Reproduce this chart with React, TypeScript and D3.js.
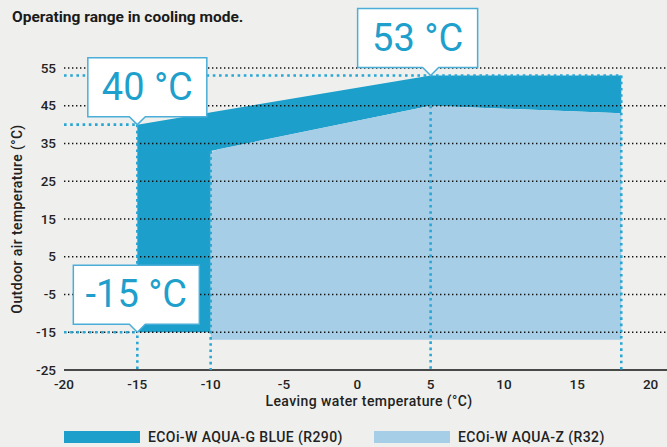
import React from 'react'
import * as d3 from 'd3'

// axis ticks
const xTicks = [-20, -15, -10, -5, 0, 5, 10, 15, 20]
const yTicks = [-25, -15, -5, 5, 15, 25, 35, 45, 55]

// R290 envelope (leaving water °C, outdoor air °C)
const r290Water = [-15, -15, 5, 18, 18, 5, -10, -10]
const r290Air = [-15, 40, 53, 53, 43, 45, 33, -15]

// R32 envelope
const r32Water = [-10, -10, -9.5, 5, 18, 18]
const r32Air = [-17, 32.6, 33.5, 45, 43, -17]

// highlighted limits
const calloutLabels = ['40 °C', '53 °C', '-15 °C']
const calloutWater = [-15, 5, -15]
const calloutAir = [40, 53, -15]

// blue dotted guides
const guideWater = [-15, -10, 5, 18]
const guideTopAir = [40, 33, 45, 53]

const seriesNames = ['ECOi-W AQUA-G BLUE (R290)', 'ECOi-W AQUA-Z (R32)']

const W = 667,
	H = 447
const DARK = '#1c9fcb'
const LIGHT = '#a6cee7'
const DOT = '#2aa6d4'
const FONT = 'Roboto, "DejaVu Sans", sans-serif'

const App = () => {
	const x = d3.scaleLinear().domain([-20, 20]).range([64, 650.6])
	const y = d3.scaleLinear().domain([-25, 55]).range([370, 68])

	const area = d3
		.line<[number, number]>()
		.x((d) => x(d[0]))
		.y((d) => y(d[1]))

	const r290 = area(r290Water.map((w, i) => [w, r290Air[i]]))! + 'Z'
	const r32 = area(r32Water.map((w, i) => [w, r32Air[i]]))! + 'Z'

	// callout box layout (px offsets from the tip)
	const boxW = [119, 120, 126]
	const boxDx = [10, -13, -1]
	const boxH = 59
	const gap = 8

	return (
		<svg
			width={W}
			height={H}
			style={{ position: 'absolute', left: 0, top: 0, background: '#eff0ee' }}
		>
			<text x={12} y={22} fontFamily={FONT} fontWeight={700} fontSize={15.5} fill="#1a1a1a">
				Operating range in cooling mode.
			</text>

			<path d={r290} fill={DARK} />
			<path d={r32} fill={LIGHT} />

			{/* grid */}
			{yTicks
				.filter((t) => t > -25)
				.map((t) => (
					<line
						key={'g' + t}
						x1={64}
						x2={W}
						y1={y(t)}
						y2={y(t)}
						stroke="#111"
						strokeWidth={1.4}
						strokeDasharray="1.4 2.6"
					/>
				))}
			<line x1={64} x2={W} y1={y(-25)} y2={y(-25)} stroke="#111" strokeWidth={1.6} />

			{/* blue guides */}
			{guideWater.map((w, i) => (
				<line
					key={'v' + w}
					x1={x(w)}
					x2={x(w)}
					y1={y(guideTopAir[i])}
					y2={y(-25)}
					stroke={DOT}
					strokeWidth={2.6}
					strokeDasharray="2.6 3.6"
				/>
			))}
			{calloutWater.map((w, i) => (
				<line
					key={'h' + i}
					x1={64}
					x2={i === 1 ? x(18) : x(w)}
					y1={y(calloutAir[i])}
					y2={y(calloutAir[i])}
					stroke={DOT}
					strokeWidth={2.6}
					strokeDasharray="2.6 3.6"
				/>
			))}

			{/* callouts */}
			{calloutLabels.map((lab, i) => {
				const tx = x(calloutWater[i])
				const ty = y(calloutAir[i])
				const bottom = ty - gap
				const top = bottom - boxH
				const cx = tx + boxDx[i]
				const l = cx - boxW[i] / 2
				const r = cx + boxW[i] / 2
				const p = `M${l},${top}H${r}V${bottom}H${tx + 8}L${tx},${ty}L${tx - 8},${bottom}H${l}Z`
				return (
					<g key={lab}>
						<path d={p} fill="#fff" stroke="#4aaed8" strokeWidth={1.5} />
						<text
							x={cx}
							y={bottom - 17}
							textAnchor="middle"
							fontFamily={FONT}
							fontSize={38}
							fill="#1e9fcc"
						>
							{lab}
						</text>
					</g>
				)
			})}

			{/* y tick labels */}
			{yTicks.map((t) => (
				<text
					key={'yt' + t}
					x={56}
					y={y(t)}
					dy="0.35em"
					textAnchor="end"
					fontFamily={FONT}
					fontWeight={500}
					fontSize={13.5}
					fill="#222"
				>
					{t}
				</text>
			))}
			{/* x tick labels */}
			{xTicks.map((t) => (
				<text
					key={'xt' + t}
					x={x(t)}
					y={389}
					textAnchor="middle"
					fontFamily={FONT}
					fontWeight={500}
					fontSize={13.5}
					fill="#222"
				>
					{t}
				</text>
			))}

			<text
				x={369}
				y={406}
				textAnchor="middle"
				fontFamily={FONT}
				fontWeight={500}
				fontSize={14}
				letterSpacing={0.4}
				fill="#222"
			>
				Leaving water temperature (°C)
			</text>
			<text
				transform={`translate(22,${(y(-25) + y(55)) / 2}) rotate(-90)`}
				textAnchor="middle"
				fontFamily={FONT}
				fontWeight={500}
				fontSize={14}
				letterSpacing={0.4}
				fill="#222"
			>
				Outdoor air temperature (°C)
			</text>

			{/* legend */}
			{seriesNames.map((s, i) => {
				const lx = i === 0 ? 64 : 374
				return (
					<g key={s}>
						<rect x={lx} y={431} width={76} height={12} fill={i === 0 ? DARK : LIGHT} />
						<text
							x={lx + 84}
							y={437}
							dy="0.35em"
							fontFamily={FONT}
							fontWeight={500}
							fontSize={14}
							letterSpacing={0.4}
							fill="#222"
						>
							{s}
						</text>
					</g>
				)
			})}
		</svg>
	)
}

export default App
